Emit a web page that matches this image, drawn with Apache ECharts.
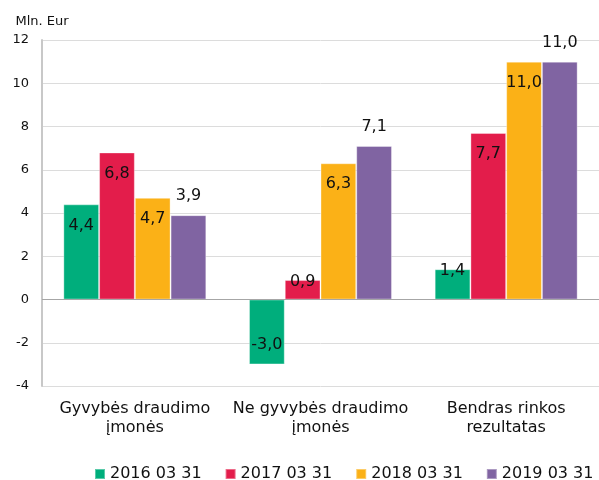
<!DOCTYPE html>
<html>
<head>
<meta charset="utf-8">
<script src="https://cdn.jsdelivr.net/npm/echarts@6/dist/echarts.min.js"></script>
<style>
    html, body { margin: 0; padding: 0; background: #fff; }
    #chart { width: 599px; height: 480px; }
</style>
</head>
<body>
<div id="chart"></div>
<script>
const categories = ['Gyvybės draudimo\nįmonės', 'Ne gyvybės draudimo\nįmonės', 'Bendras rinkos\nrezultatas']
const seriesNames = ['2016 03 31', '2017 03 31', '2018 03 31', '2019 03 31']
const values2016 = [4.4, -3.0, 1.4]
const values2017 = [6.8, 0.9, 7.7]
const values2018 = [4.7, 6.3, 11.0]
const values2019 = [3.9, 7.1, 11.0]
const yTicks = [-4, -2, 0, 2, 4, 6, 8, 10, 12]

const colors = ['#00ae7c', '#e31d4b', '#fbb117', '#8064a2']
const fontFamily = '"DejaVu Sans"'

// label placement roughly like the excel original
function labelFor(value, seriesIndex) {
    const base = {
        show: true,
        color: '#111',
        fontSize: 16,
        fontFamily,
        formatter: p => p.value.toFixed(1).replace('.', ',')
    }
    if (seriesIndex === 3) return { ...base, position: 'top', distance: 11 }
    if (value < 0) return { ...base, position: 'insideBottom', distance: 12 }
    if (value < 2) return { ...base, position: 'top', distance: -10 }
    return { ...base, position: 'insideTop', distance: 13 }
}

const allValues = [values2016, values2017, values2018, values2019]
const series = allValues.map((vals, si) => ({
    name: seriesNames[si],
    type: 'bar',
    barGap: '0%',
    barCategoryGap: '23%',
    itemStyle: { color: colors[si], borderColor: 'rgba(255,255,255,0.35)', borderWidth: 1 },
    data: vals.map(v => ({ value: v, label: labelFor(v, si) })),
    markLine: si === 0 ? {
        silent: true,
        symbol: 'none',
        label: { show: false },
        lineStyle: { color: '#a6a6a6', width: 1, type: 'solid' },
        data: [{ yAxis: 0 }]
    } : undefined
}))

const chart = echarts.init(document.getElementById('chart'))
chart.setOption({
    animation: false,
    color: colors,
    grid: { left: 42, right: 0, top: 40, bottom: 94 },
    legend: {
        data: seriesNames,
        left: 89,
        top: 461,
        width: 520,
        itemWidth: 10,
        itemHeight: 10,
        itemGap: 23,
        icon: 'rect',
        textStyle: { fontSize: 16, color: '#111', fontFamily }
    },
    xAxis: {
        type: 'category',
        data: categories,
        axisLine: { show: false, onZero: false },
        axisTick: { show: false },
        axisLabel: {
            interval: 0,
            margin: 13,
            fontSize: 16,
            lineHeight: 19,
            color: '#111',
            fontFamily
        }
    },
    yAxis: {
        type: 'value',
        min: yTicks[0],
        max: yTicks[yTicks.length - 1],
        interval: 2,
        name: 'Mln. Eur',
        nameLocation: 'end',
        nameGap: 12,
        nameTextStyle: { fontSize: 13, color: '#111', fontFamily, align: 'center' },
        axisLine: { show: true, lineStyle: { color: '#c8c8c8', width: 2 } },
        axisTick: { show: false },
        axisLabel: {
            margin: 13,
            fontSize: 13,
            color: '#111',
            fontFamily,
            formatter: v => String(v)
        },
        splitLine: { lineStyle: { color: '#dcdcdc', width: 1 } }
    },
    series
})
</script>
</body>
</html>
